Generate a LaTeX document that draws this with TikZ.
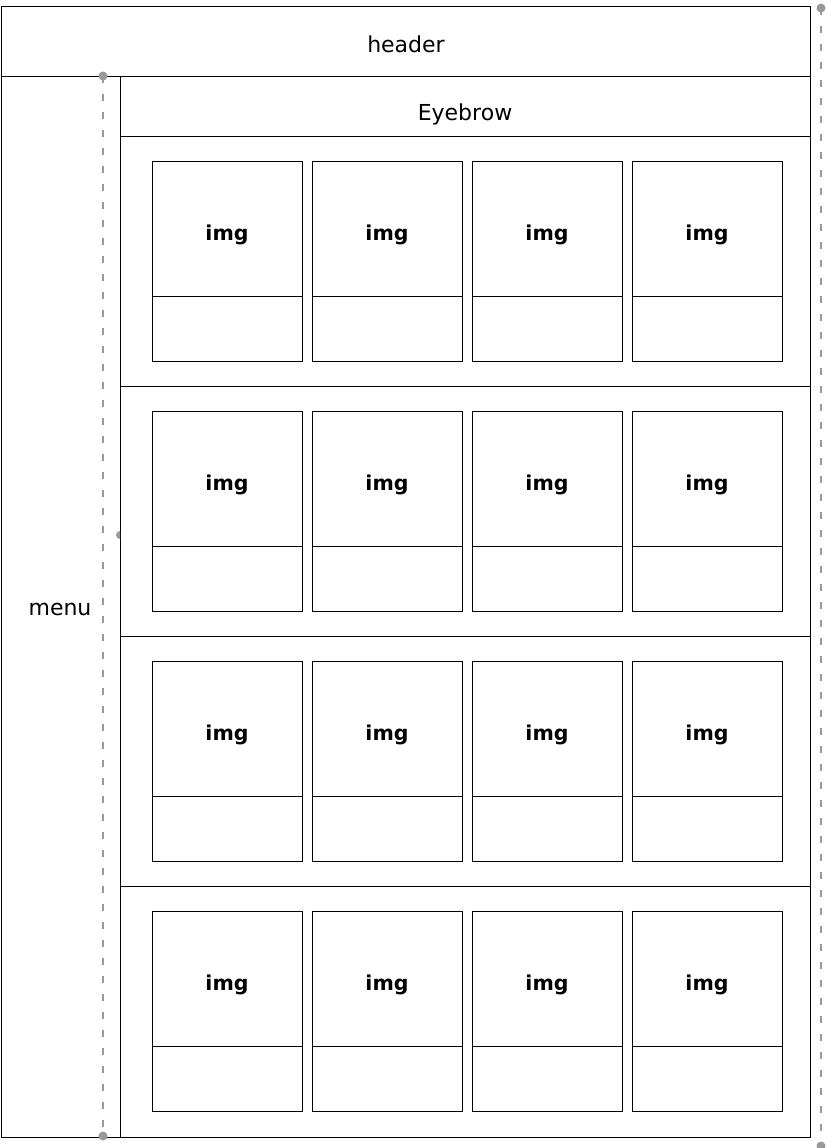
\documentclass[tikz,border=0pt]{standalone}
\usepackage{fontspec}
\setmainfont{DejaVu Sans}
\definecolor{guidegray}{HTML}{999999}
\begin{document}
\begin{tikzpicture}[x=1pt,y=-1pt,
  box/.style={draw=black, line width=1pt},
  guide/.style={draw=guidegray, line width=2.5pt, dash pattern=on 7pt off 11pt},
  guidedot/.style={fill=guidegray, draw=none},
  lbl/.style={font=\fontsize{22}{26}\selectfont, inner sep=0pt},
  imglbl/.style={font=\bfseries\fontsize{20.5}{24}\selectfont, inner sep=0pt}]
\useasboundingbox (0,0) rectangle (834,1148);
\fill[white] (0,0) rectangle (834,1148);
% frame
\draw[box] (1,7) rectangle (810,1137);
\draw[box] (1,76) -- (810,76);
\draw[box] (120,76) -- (120,1137);
\draw[box] (120,136) -- (810,136);
\foreach \y in {386,636,886} \draw[box] (120,\y) -- (810,\y);
% labels
\node[lbl] (header) at (406,44) {header};
\node[lbl] (menu) at (60,609) {menu};
\node[lbl] (eyebrow) at (465,114) {Eyebrow};
% cards
\foreach \r [count=\ri] in {136,386,636,886} {
  \foreach \x [count=\ci] in {152,312,472,632} {
    \draw[box] (\x,\r+25) rectangle (\x+150,\r+225);
    \draw[box] (\x,\r+160) -- (\x+150,\r+160);
    \node[imglbl] (img\ri\ci) at (\x+75,\r+99) {img};
  }
}
% guides
\coordinate (rtop) at (821,8);
\coordinate (rbot) at (821,1146);
\coordinate (ltop) at (103,76);
\coordinate (lbot) at (103,1136);
\draw[guide] (rtop) -- (rbot);
\draw[guide] (ltop) -- (lbot);
\fill[guidedot] (rtop) circle (4.5);
\fill[guidedot] (rbot) circle (4.5);
\fill[guidedot] (ltop) circle (4.5);
\fill[guidedot] (lbot) circle (4.5);
\begin{scope}
  \clip (110,525) rectangle (120,545);
  \fill[guidedot] (120,535) circle (4);
\end{scope}
\end{tikzpicture}
\end{document}
